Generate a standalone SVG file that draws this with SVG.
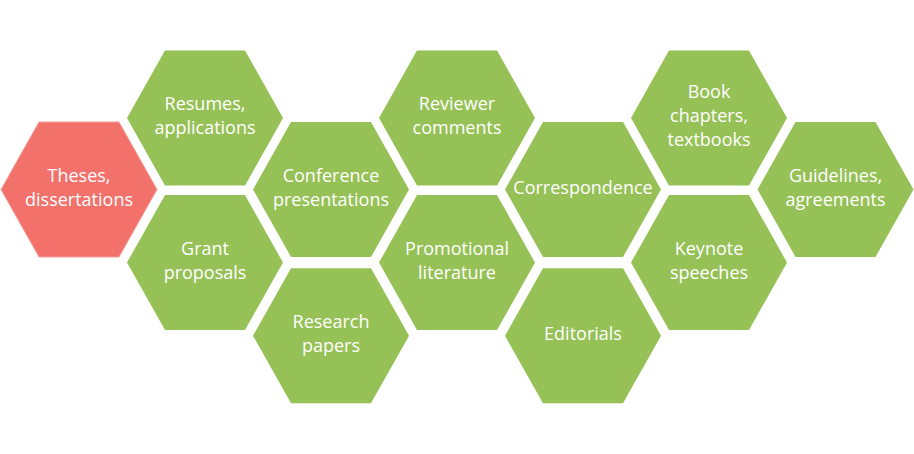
<svg xmlns="http://www.w3.org/2000/svg" xmlns:xlink="http://www.w3.org/1999/xlink" width="914" height="454" viewBox="0 0 914 454">
  <defs>
    <style>
      .g { fill: #96C156; }
      .r { fill: #F2716B; stroke: #F6A09B; stroke-width: 1; }
      text { font-family: "Open Sans", "Noto Sans", sans-serif; font-size: 18px; fill: #FFFFFF; text-anchor: middle; }
    </style>
    <polygon id="hex" points="-78,0 -40,-67.5 40,-67.5 78,0 40,67.5 -40,67.5"/>
  </defs>
  <rect width="914" height="454" fill="#FFFFFF"/>

  <g id="theses" transform="translate(79,189.5)">
    <use xlink:href="#hex" class="r"/>
    <text y="-8">Theses,</text><text y="16">dissertations</text>
  </g>
  <g id="resumes" transform="translate(205,118)">
    <use xlink:href="#hex" class="g"/>
    <text y="-8">Resumes,</text><text y="16">applications</text>
  </g>
  <g id="grant" transform="translate(205,262.5)">
    <use xlink:href="#hex" class="g"/>
    <text y="-8">Grant</text><text y="16">proposals</text>
  </g>
  <g id="conference" transform="translate(331,189.5)">
    <use xlink:href="#hex" class="g"/>
    <text y="-8">Conference</text><text y="16">presentations</text>
  </g>
  <g id="research" transform="translate(331,335.8)">
    <use xlink:href="#hex" class="g"/>
    <text y="-8">Research</text><text y="16">papers</text>
  </g>
  <g id="reviewer" transform="translate(457,118)">
    <use xlink:href="#hex" class="g"/>
    <text y="-8">Reviewer</text><text y="16">comments</text>
  </g>
  <g id="promotional" transform="translate(457,262.5)">
    <use xlink:href="#hex" class="g"/>
    <text y="-8">Promotional</text><text y="16">literature</text>
  </g>
  <g id="correspondence" transform="translate(583,189.5)">
    <use xlink:href="#hex" class="g"/>
    <text y="4">Correspondence</text>
  </g>
  <g id="editorials" transform="translate(583,335.8)">
    <use xlink:href="#hex" class="g"/>
    <text y="4">Editorials</text>
  </g>
  <g id="book" transform="translate(709,118)">
    <use xlink:href="#hex" class="g"/>
    <text y="-20">Book</text><text y="4">chapters,</text><text y="28">textbooks</text>
  </g>
  <g id="keynote" transform="translate(709,262.5)">
    <use xlink:href="#hex" class="g"/>
    <text y="-8">Keynote</text><text y="16">speeches</text>
  </g>
  <g id="guidelines" transform="translate(835.5,189.5)">
    <use xlink:href="#hex" class="g"/>
    <text y="-8">Guidelines,</text><text y="16">agreements</text>
  </g>
</svg>
